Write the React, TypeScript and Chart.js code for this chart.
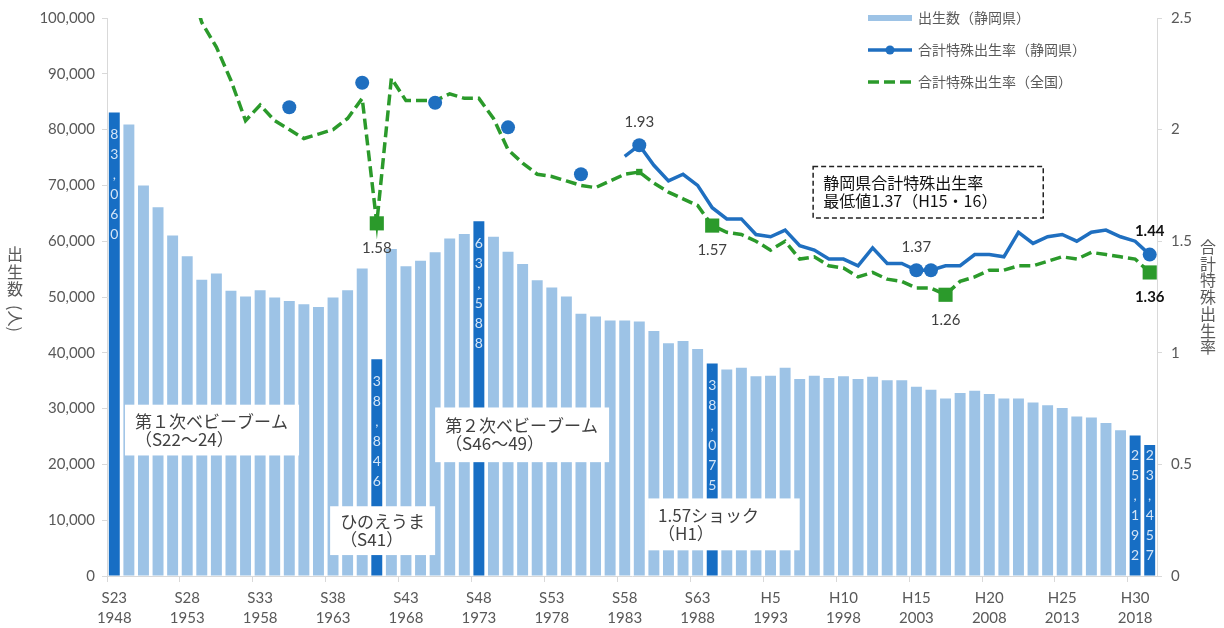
import React, { useEffect, useRef } from 'react';
import { Chart, registerables } from 'chart.js';

Chart.register(...registerables);

// ---------- DATA ----------
const years = [
  1948, 1949, 1950, 1951, 1952, 1953, 1954, 1955, 1956, 1957, 1958, 1959,
  1960, 1961, 1962, 1963, 1964, 1965, 1966, 1967, 1968, 1969, 1970, 1971,
  1972, 1973, 1974, 1975, 1976, 1977, 1978, 1979, 1980, 1981, 1982, 1983,
  1984, 1985, 1986, 1987, 1988, 1989, 1990, 1991, 1992, 1993, 1994, 1995,
  1996, 1997, 1998, 1999, 2000, 2001, 2002, 2003, 2004, 2005, 2006, 2007,
  2008, 2009, 2010, 2011, 2012, 2013, 2014, 2015, 2016, 2017, 2018, 2019,
];

const tickEras = ['S23', 'S28', 'S33', 'S38', 'S43', 'S48', 'S53', 'S58', 'S63', 'H5', 'H10', 'H15', 'H20', 'H25', 'H30'];

// 出生数（静岡県）
const births = [
  83060, 80900, 70000, 66100, 61000, 57300, 53100, 54200, 51100, 50100, 51200, 49900,
  49300, 48700, 48200, 49900, 51200, 55100, 38846, 58600, 55500, 56500, 58000, 60500,
  61300, 63588, 60800, 58100, 55900, 53000, 51700, 50100, 47000, 46500, 45800, 45800,
  45600, 43900, 41700, 42100, 40700, 38075, 37000, 37300, 35800, 35900, 37300, 35300,
  35900, 35500, 35800, 35300, 35700, 35100, 35100, 33900, 33400, 31800, 32800, 33200,
  32600, 31800, 31800, 31100, 30600, 30100, 28600, 28400, 27400, 26100, 25192, 23457,
];

// 合計特殊出生率（静岡県）
const tfrShizuoka = [
  null, null, null, null, null, null, null, null, null, null, null, null,
  2.10, null, null, null, null, 2.21, null, null, null, null, 2.12, null,
  null, null, null, 2.01, null, null, null, null, 1.80, null, null, 1.88,
  1.93, 1.84, 1.77, 1.80, 1.75, 1.65, 1.60, 1.60, 1.53, 1.52, 1.55, 1.48,
  1.46, 1.42, 1.42, 1.39, 1.47, 1.40, 1.40, 1.37, 1.37, 1.39, 1.39, 1.44,
  1.44, 1.43, 1.54, 1.49, 1.52, 1.53, 1.50, 1.54, 1.55, 1.52, 1.50, 1.44,
];

// 合計特殊出生率（全国）
const tfrJapan = [
  4.40, 4.32, 3.65, 3.26, 2.98, 2.69, 2.48, 2.37, 2.22, 2.04, 2.11, 2.04,
  2.00, 1.96, 1.98, 2.00, 2.05, 2.14, 1.58, 2.23, 2.13, 2.13, 2.13, 2.16,
  2.14, 2.14, 2.05, 1.91, 1.85, 1.80, 1.79, 1.77, 1.75, 1.74, 1.77, 1.80,
  1.81, 1.76, 1.72, 1.69, 1.66, 1.57, 1.54, 1.53, 1.50, 1.46, 1.50, 1.42,
  1.43, 1.39, 1.38, 1.34, 1.36, 1.33, 1.32, 1.29, 1.29, 1.26, 1.32, 1.34,
  1.37, 1.37, 1.39, 1.39, 1.41, 1.43, 1.42, 1.45, 1.44, 1.43, 1.42, 1.36,
];

const highlightYears = [1948, 1966, 1973, 1989, 2018, 2019];
const blueMarkerYears = [1960, 1965, 1970, 1975, 1980, 1984, 2003, 2004, 2019];
const greenMarkerYears = [1966, 1989, 2005, 2019];
const greenSmallMarkerYears = [1984];
const blueLabelYears = [1984, 2003, 2019];
const greenLabelYears = [1966, 1989, 2005, 2019];
const strongLabelYears = [2019];

const legendTexts = ['出生数（静岡県）', '合計特殊出生率（静岡県）', '合計特殊出生率（全国）'];
const leftTitleChars = ['出', '生', '数'];
const leftTitleTail = '(人)';
const rightTitle = '合計特殊出生率';

// annotation boxes: placed in axis (index / value) coordinates
const notes = [
  { lines: ['第１次ベビーブーム', '（S22～24）'], x0: 0.73, x1: 12.67, v0: 30700, v1: 21600, axis: 'y', dashed: false },
  { lines: ['ひのえうま', '（S41）'], x0: 14.8, x1: 22.0, v0: 12500, v1: 3750, axis: 'y', dashed: false },
  { lines: ['第２次ベビーブーム', '（S46～49）'], x0: 22.0, x1: 33.93, v0: 30200, v1: 20400, axis: 'y', dashed: false },
  { lines: ['1.57ショック', '（H1）'], x0: 36.6, x1: 47.0, v0: 13900, v1: 4600, axis: 'y', dashed: false },
  { lines: ['静岡県合計特殊出生率', '最低値1.37（H15・16）'], x0: 47.92, x1: 63.7, v0: 1.835, v1: 1.604, axis: 'y1', dashed: true },
];

// ---------- STYLE ----------
const LIGHT_BAR = '#9dc3e6';
const DARK_BAR = '#176ec4';
const BLUE = '#1f6fc0';
const GREEN = '#2b9a2b';
const AXIS_GRAY = '#d9d9d9';
const TEXT_GRAY = '#595959';
const JP = "'Noto Sans CJK JP', sans-serif";
const NUM = "Lato, 'Noto Sans CJK JP', sans-serif";

const idx = (y: number) => years.indexOf(y);

const overlayPlugin = {
  id: 'overlay',
  afterDatasetsDraw(chart: any) {
    const ctx = chart.ctx;
    const xs = chart.scales.x;
    const barMeta = chart.getDatasetMeta(2);

    // vertical digit labels inside highlighted bars
    ctx.save();
    ctx.font = `14px ${NUM}`;
    ctx.fillStyle = '#d4e5f7';
    ctx.textAlign = 'center';
    ctx.textBaseline = 'middle';
    highlightYears.forEach((yr) => {
      const i = idx(yr);
      const el = barMeta.data[i];
      const chars = births[i].toLocaleString('en-US').split('');
      const step = 20;
      let start = el.y + 22;
      if (start + (chars.length - 1) * step > el.base - 20) start = el.base - 20 - (chars.length - 1) * step;
      chars.forEach((c: string, k: number) => ctx.fillText(c, el.x, start + k * step));
    });
    ctx.restore();

    // annotation boxes
    notes.forEach((n) => {
      const sc = chart.scales[n.axis];
      const l = xs.getPixelForValue(n.x0);
      const r = xs.getPixelForValue(n.x1);
      const t = sc.getPixelForValue(n.v0);
      const b = sc.getPixelForValue(n.v1);
      ctx.save();
      ctx.fillStyle = '#ffffff';
      ctx.fillRect(l, t, r - l, b - t);
      if (n.dashed) {
        ctx.strokeStyle = '#222222';
        ctx.lineWidth = 1.5;
        ctx.setLineDash([5, 3]);
        ctx.strokeRect(l, t, r - l, b - t);
        ctx.setLineDash([]);
      }
      ctx.fillStyle = n.dashed ? '#111111' : '#404040';
      ctx.font = n.dashed ? `16px ${JP}` : `17px ${JP}`;
      ctx.textAlign = 'left';
      ctx.textBaseline = 'middle';
      const lh = 18;
      const mid = (t + b) / 2;
      n.lines.forEach((line, k) => {
        ctx.fillText(line, l + 10, mid - lh / 2 + k * lh);
      });
      ctx.restore();
    });

    // rate value labels
    const yr1 = chart.scales.y1;
    ctx.save();
    ctx.textAlign = 'center';
    ctx.textBaseline = 'middle';
    blueLabelYears.forEach((yr) => {
      const i = idx(yr);
      const v = tfrShizuoka[i] as number;
      const strong = strongLabelYears.includes(yr);
      ctx.font = `${strong ? 'bold ' : ''}15px ${NUM}`;
      ctx.fillStyle = strong ? '#111111' : '#404040';
      ctx.fillText(v.toFixed(2), xs.getPixelForValue(i), yr1.getPixelForValue(v) - 23);
    });
    greenLabelYears.forEach((yr) => {
      const i = idx(yr);
      const v = tfrJapan[i];
      const strong = strongLabelYears.includes(yr);
      ctx.font = `${strong ? 'bold ' : ''}15px ${NUM}`;
      ctx.fillStyle = strong ? '#111111' : '#404040';
      ctx.fillText(v.toFixed(2), xs.getPixelForValue(i), yr1.getPixelForValue(v) + 25);
    });
    ctx.restore();
  },
  afterDraw(chart: any) {
    const ctx = chart.ctx;
    const area = chart.chartArea;
    ctx.save();
    ctx.setTransform(1, 0, 0, 1, 0, 0);
    // legend
    const lx0 = 868;
    const lx1 = 912;
    const rows = [18, 50, 82];
    ctx.fillStyle = LIGHT_BAR;
    ctx.fillRect(lx0, rows[0] - 3, lx1 - lx0, 6);
    ctx.strokeStyle = BLUE;
    ctx.lineWidth = 3.5;
    ctx.beginPath();
    ctx.moveTo(lx0, rows[1]);
    ctx.lineTo(lx1, rows[1]);
    ctx.stroke();
    ctx.fillStyle = BLUE;
    ctx.beginPath();
    ctx.arc((lx0 + lx1) / 2, rows[1], 4.5, 0, Math.PI * 2);
    ctx.fill();
    ctx.strokeStyle = GREEN;
    ctx.setLineDash([11, 5]);
    ctx.beginPath();
    ctx.moveTo(lx0, rows[2]);
    ctx.lineTo(lx1, rows[2]);
    ctx.stroke();
    ctx.setLineDash([]);
    ctx.fillStyle = TEXT_GRAY;
    ctx.font = `14px ${JP}`;
    ctx.textAlign = 'left';
    ctx.textBaseline = 'middle';
    legendTexts.forEach((t, k) => ctx.fillText(t, lx1 + 6, rows[k]));

    // left axis title (stacked, upright characters)
    ctx.font = `16px ${JP}`;
    ctx.textAlign = 'center';
    ctx.textBaseline = 'middle';
    ctx.fillStyle = TEXT_GRAY;
    const ltx = 15;
    let ly = 254;
    leftTitleChars.forEach((c) => {
      ctx.fillText(c, ltx, ly);
      ly += 17.5;
    });
    ctx.save();
    ctx.translate(ltx, ly + 12);
    ctx.rotate(Math.PI / 2);
    ctx.fillText(leftTitleTail, 0, 0);
    ctx.restore();

    // right axis title (stacked)
    const rtx = area.right + 51;
    rightTitle.split('').forEach((c, k) => ctx.fillText(c, rtx, 247 + k * 16.7));
    ctx.restore();
  },
};

export default function App() {
  const ref = useRef<HTMLCanvasElement | null>(null);

  useEffect(() => {
    if (!ref.current) return;
    const hi = new Set(highlightYears.map(idx));
    const blueMk = new Set(blueMarkerYears.map(idx));
    const greenMk = new Set(greenMarkerYears.map(idx));
    const greenSm = new Set(greenSmallMarkerYears.map(idx));

    const chart = new Chart(ref.current, {
      type: 'bar',
      data: {
        labels: years.map(String),
        datasets: [
          {
            type: 'line',
            label: '合計特殊出生率（静岡県）',
            data: tfrShizuoka,
            yAxisID: 'y1',
            borderColor: BLUE,
            backgroundColor: BLUE,
            borderWidth: 3.5,
            tension: 0,
            spanGaps: false,
            pointRadius: years.map((_, i) => (blueMk.has(i) ? 7 : 0)),
            pointHoverRadius: 0,
            pointBorderWidth: 0,
            order: 0,
          } as any,
          {
            type: 'line',
            label: '合計特殊出生率（全国）',
            data: tfrJapan,
            yAxisID: 'y1',
            borderColor: GREEN,
            backgroundColor: GREEN,
            borderWidth: 3.5,
            borderDash: [11, 5],
            tension: 0,
            pointStyle: 'rect',
            pointRadius: years.map((_, i) => (greenMk.has(i) ? 10 : greenSm.has(i) ? 4.5 : 0)),
            pointHoverRadius: 0,
            pointBorderWidth: 0,
            order: 1,
          } as any,
          {
            type: 'bar',
            label: '出生数（静岡県）',
            data: births,
            yAxisID: 'y',
            backgroundColor: years.map((_, i) => (hi.has(i) ? DARK_BAR : LIGHT_BAR)),
            borderWidth: 0,
            categoryPercentage: 1,
            barPercentage: 0.75,
            order: 2,
          } as any,
        ],
      },
      options: {
        animation: false,
        responsive: false,
        maintainAspectRatio: false,
        layout: { padding: { top: 16, left: 0, right: 0, bottom: 0 } },
        plugins: {
          legend: { display: false },
          tooltip: { enabled: false },
          title: { display: false },
        },
        scales: {
          x: {
            type: 'category',
            offset: true,
            grid: {
              offset: true,
              drawOnChartArea: false,
              drawTicks: true,
              tickLength: 6,
              color: (c: any) => (typeof c.index === 'number' && c.index % 5 === 0 ? AXIS_GRAY : 'rgba(0,0,0,0)'),
            },
            border: { display: true, color: AXIS_GRAY },
            ticks: {
              autoSkip: false,
              maxRotation: 0,
              minRotation: 0,
              padding: 6,
              color: TEXT_GRAY,
              font: { family: NUM, size: 15, lineHeight: 1.33 },
              callback: (_v: any, i: number) => (i % 5 === 0 ? [tickEras[i / 5], String(years[i])] : ''),
            },
            afterFit: (s: any) => {
              s.height = 52;
            },
          },
          y: {
            position: 'left',
            min: 0,
            max: 100000,
            grid: { drawOnChartArea: false, drawTicks: true, tickLength: 5, color: AXIS_GRAY },
            border: { display: true, color: AXIS_GRAY },
            ticks: {
              stepSize: 10000,
              padding: 7,
              color: TEXT_GRAY,
              font: { family: NUM, size: 15 },
              callback: (v: any) => Number(v).toLocaleString('en-US'),
            },
            afterFit: (s: any) => {
              s.width = 107;
            },
          },
          y1: {
            position: 'right',
            min: 0,
            max: 2.5,
            grid: { drawOnChartArea: false, drawTicks: true, tickLength: 5, color: AXIS_GRAY },
            border: { display: true, color: AXIS_GRAY },
            ticks: {
              stepSize: 0.5,
              padding: 9,
              color: TEXT_GRAY,
              font: { family: NUM, size: 15 },
              callback: (v: any) => String(Number(v)),
            },
            afterFit: (s: any) => {
              s.width = 67;
            },
          },
        },
      } as any,
      plugins: [overlayPlugin],
    });
    return () => chart.destroy();
  }, []);

  return (
    <div style={{ position: 'fixed', left: 0, top: 0, width: 1224, height: 628, background: '#ffffff' }}>
      <canvas ref={ref} width={1224} height={628} style={{ display: 'block', width: 1224, height: 628 }} />
    </div>
  );
}
